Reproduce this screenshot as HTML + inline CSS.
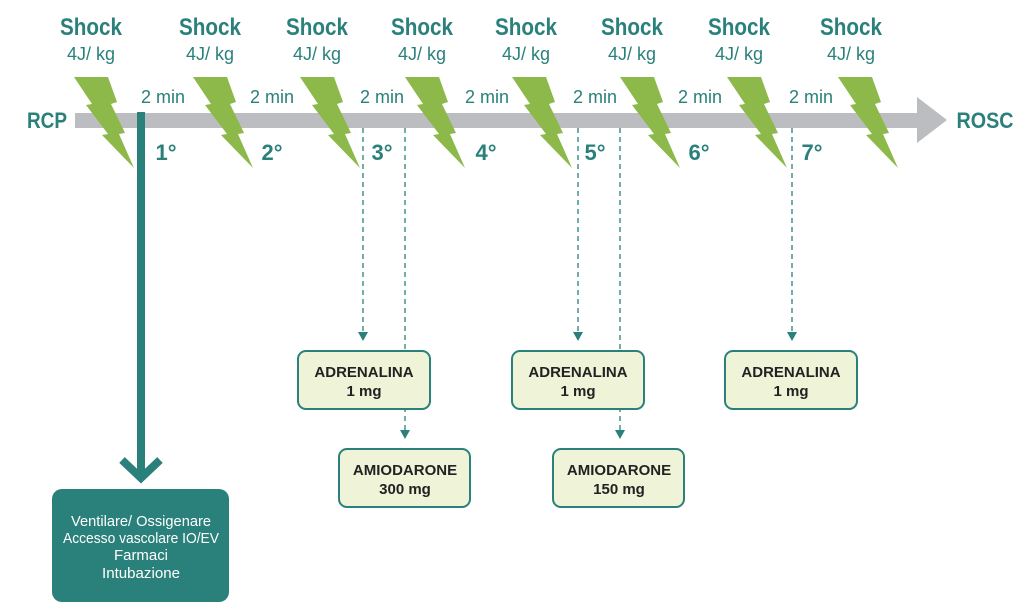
<!DOCTYPE html>
<html><head><meta charset="utf-8"><style>html,body{margin:0;padding:0;background:#fff;width:1024px;height:609px;overflow:hidden}</style></head>
<body>
<svg width="1024" height="609" viewBox="0 0 1024 609" xmlns="http://www.w3.org/2000/svg" font-family="'Liberation Sans',sans-serif">
<defs>
<polygon id="b" points="0,0 34,0 43,25 37,27 51,56 45,57 60,91 28,58 34,57 12,28 18,27" fill="#8db84a"/>
</defs>
<rect x="75" y="113" width="845" height="15" fill="#bcbdc0"/>
<polygon points="917,97 947,120 917,143" fill="#bcbdc0"/>
<g stroke="#2a807a" stroke-width="1.3" stroke-dasharray="5,4" fill="none">
<line x1="363" y1="128" x2="363" y2="332"/>
<line x1="405" y1="128" x2="405" y2="430"/>
<line x1="578" y1="128" x2="578" y2="332"/>
<line x1="620" y1="128" x2="620" y2="430"/>
<line x1="792" y1="128" x2="792" y2="332"/>
</g>
<g fill="#2a807a">
<polygon points="358,332 368,332 363,341"/>
<polygon points="400,430 410,430 405,439"/>
<polygon points="573,332 583,332 578,341"/>
<polygon points="615,430 625,430 620,439"/>
<polygon points="787,332 797,332 792,341"/>
</g>
<use href="#b" x="74" y="77"/><use href="#b" x="193" y="77"/><use href="#b" x="300" y="77"/><use href="#b" x="405" y="77"/>
<use href="#b" x="512" y="77"/><use href="#b" x="620" y="77"/><use href="#b" x="727" y="77"/><use href="#b" x="838" y="77"/>
<rect x="137" y="112" width="8" height="362" fill="#2a807a"/>
<polyline points="122,460 141,478 160,460" fill="none" stroke="#2a807a" stroke-width="8"/>
<rect x="52" y="489" width="177" height="113" rx="10" fill="#2a807a"/>
<g fill="#fff" font-size="15" text-anchor="middle" lengthAdjust="spacingAndGlyphs">
<text x="141" y="526" textLength="140" lengthAdjust="spacingAndGlyphs">Ventilare/ Ossigenare</text>
<text x="141" y="543" textLength="156" lengthAdjust="spacingAndGlyphs">Accesso vascolare IO/EV</text>
<text x="141" y="560" textLength="54" lengthAdjust="spacingAndGlyphs">Farmaci</text>
<text x="141" y="578" textLength="78" lengthAdjust="spacingAndGlyphs">Intubazione</text>
</g>
<g fill="#eff3d8" stroke="#2a807a" stroke-width="2">
<rect x="298" y="351" width="132" height="58" rx="8"/>
<rect x="339" y="449" width="131" height="58" rx="8"/>
<rect x="512" y="351" width="132" height="58" rx="8"/>
<rect x="553" y="449" width="131" height="58" rx="8"/>
<rect x="725" y="351" width="132" height="58" rx="8"/>
</g>
<g fill="#222" font-size="15" font-weight="bold" text-anchor="middle">
<text x="364" y="377">ADRENALINA</text><text x="364" y="396">1 mg</text>
<text x="405" y="475">AMIODARONE</text><text x="405" y="494">300 mg</text>
<text x="578" y="377">ADRENALINA</text><text x="578" y="396">1 mg</text>
<text x="619" y="475">AMIODARONE</text><text x="619" y="494">150 mg</text>
<text x="791" y="377">ADRENALINA</text><text x="791" y="396">1 mg</text>
</g>
<g fill="#2a807a" text-anchor="middle">
<g font-size="24" font-weight="bold">
<text x="91" y="35" textLength="62" lengthAdjust="spacingAndGlyphs">Shock</text>
<text x="210" y="35" textLength="62" lengthAdjust="spacingAndGlyphs">Shock</text>
<text x="317" y="35" textLength="62" lengthAdjust="spacingAndGlyphs">Shock</text>
<text x="422" y="35" textLength="62" lengthAdjust="spacingAndGlyphs">Shock</text>
<text x="526" y="35" textLength="62" lengthAdjust="spacingAndGlyphs">Shock</text>
<text x="632" y="35" textLength="62" lengthAdjust="spacingAndGlyphs">Shock</text>
<text x="739" y="35" textLength="62" lengthAdjust="spacingAndGlyphs">Shock</text>
<text x="851" y="35" textLength="62" lengthAdjust="spacingAndGlyphs">Shock</text>
</g>
<g font-size="18">
<text x="91" y="60">4J/ kg</text><text x="210" y="60">4J/ kg</text><text x="317" y="60">4J/ kg</text><text x="422" y="60">4J/ kg</text>
<text x="526" y="60">4J/ kg</text><text x="632" y="60">4J/ kg</text><text x="739" y="60">4J/ kg</text><text x="851" y="60">4J/ kg</text>
<text x="163" y="103">2 min</text><text x="272" y="103">2 min</text><text x="382" y="103">2 min</text><text x="487" y="103">2 min</text>
<text x="595" y="103">2 min</text><text x="700" y="103">2 min</text><text x="811" y="103">2 min</text>
</g>
<g font-size="22" font-weight="bold">
<text x="166" y="160">1°</text><text x="272" y="160">2°</text><text x="382" y="160">3°</text><text x="486" y="160">4°</text>
<text x="595" y="160">5°</text><text x="699" y="160">6°</text><text x="812" y="160">7°</text>
<text x="47" y="128" textLength="40" lengthAdjust="spacingAndGlyphs">RCP</text>
<text x="985" y="128" textLength="57" lengthAdjust="spacingAndGlyphs">ROSC</text>
</g>
</g>
</svg>
</body></html>
